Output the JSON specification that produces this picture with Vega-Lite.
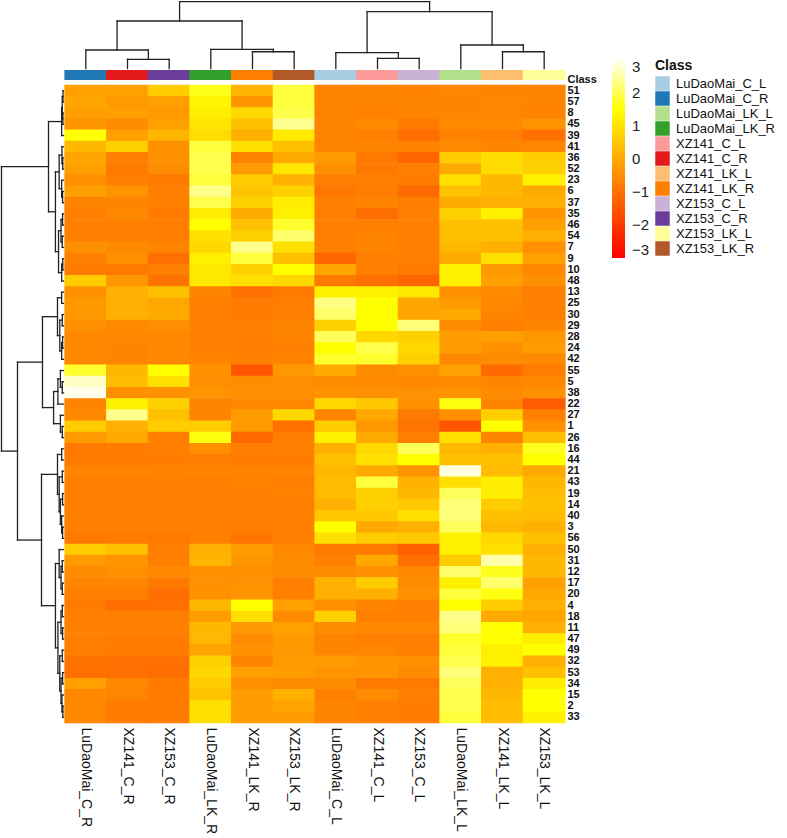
{
  "$schema": "https://vega.github.io/schema/vega-lite/v6.json",
  "width": 500,
  "height": 649,
  "autosize": {"type": "none"},
  "padding": {"left": 65, "top": 74, "right": 222, "bottom": 115},
  "background": "white",
  "config": {"view": {"stroke": null}, "font": "Liberation Sans"},
  "datasets": {
    "expr": [
      {"g":"51","LuDaoMai_C_R":-0.18,"XZ141_C_R":-0.18,"XZ153_C_R":0.6,"LuDaoMai_LK_R":1.65,"XZ141_LK_R":0.18,"XZ153_LK_R":1.88,"LuDaoMai_C_L":-0.65,"XZ141_C_L":-0.66,"XZ153_C_L":-0.68,"LuDaoMai_LK_L":-0.64,"XZ141_LK_L":-0.66,"XZ153_LK_L":-0.67},
      {"g":"57","LuDaoMai_C_R":-0.05,"XZ141_C_R":-0.28,"XZ153_C_R":-0.18,"LuDaoMai_LK_R":1.32,"XZ141_LK_R":-0.35,"XZ153_LK_R":1.88,"LuDaoMai_C_L":-0.66,"XZ141_C_L":-0.65,"XZ153_C_L":-0.67,"LuDaoMai_LK_L":-0.66,"XZ141_LK_L":-0.64,"XZ153_LK_L":-0.66},
      {"g":"8","LuDaoMai_C_R":-0.18,"XZ141_C_R":-0.2,"XZ153_C_R":-0.28,"LuDaoMai_LK_R":1.2,"XZ141_LK_R":0.81,"XZ153_LK_R":1.97,"LuDaoMai_C_L":-0.67,"XZ141_C_L":-0.68,"XZ153_C_L":-0.66,"LuDaoMai_LK_L":-0.67,"XZ141_LK_L":-0.66,"XZ153_LK_L":-0.68},
      {"g":"45","LuDaoMai_C_R":-0.35,"XZ141_C_R":-0.53,"XZ153_C_R":-0.18,"LuDaoMai_LK_R":1.06,"XZ141_LK_R":0.39,"XZ153_LK_R":2.4,"LuDaoMai_C_L":-0.66,"XZ141_C_L":-0.56,"XZ153_C_L":-0.85,"LuDaoMai_LK_L":-0.56,"XZ141_LK_L":-0.56,"XZ153_LK_L":-0.42},
      {"g":"39","LuDaoMai_C_R":1.55,"XZ141_C_R":-0.18,"XZ153_C_R":0.18,"LuDaoMai_LK_R":0.9,"XZ141_LK_R":0.11,"XZ153_LK_R":1.13,"LuDaoMai_C_L":-0.67,"XZ141_C_L":-0.74,"XZ153_C_L":-1.06,"LuDaoMai_LK_L":-0.7,"XZ141_LK_L":-0.74,"XZ153_LK_L":-1.02},
      {"g":"41","LuDaoMai_C_R":0.25,"XZ141_C_R":0.67,"XZ153_C_R":-0.46,"LuDaoMai_LK_R":1.88,"XZ141_LK_R":0.95,"XZ153_LK_R":0.39,"LuDaoMai_C_L":-0.66,"XZ141_C_L":-0.66,"XZ153_C_L":-0.7,"LuDaoMai_LK_L":-0.58,"XZ141_LK_L":-0.66,"XZ153_LK_L":-0.64},
      {"g":"36","LuDaoMai_C_R":-0.09,"XZ141_C_R":-0.74,"XZ153_C_R":-0.46,"LuDaoMai_LK_R":1.97,"XZ141_LK_R":-0.67,"XZ153_LK_R":0.0,"LuDaoMai_C_L":-0.28,"XZ141_C_L":-0.88,"XZ153_C_L":-1.2,"LuDaoMai_LK_L":0.6,"XZ141_LK_L":0.9,"XZ153_LK_L":0.6},
      {"g":"52","LuDaoMai_C_R":-0.18,"XZ141_C_R":-0.85,"XZ153_C_R":-0.53,"LuDaoMai_LK_R":1.97,"XZ141_LK_R":-0.28,"XZ153_LK_R":1.06,"LuDaoMai_C_L":-0.46,"XZ141_C_L":-0.88,"XZ153_C_L":-0.74,"LuDaoMai_LK_L":0.0,"XZ141_LK_L":0.9,"XZ153_LK_L":0.67},
      {"g":"23","LuDaoMai_C_R":-0.46,"XZ141_C_R":-0.74,"XZ153_C_R":-0.85,"LuDaoMai_LK_R":1.88,"XZ141_LK_R":0.6,"XZ153_LK_R":0.11,"LuDaoMai_C_L":-0.74,"XZ141_C_L":-0.74,"XZ153_C_L":-0.81,"LuDaoMai_LK_L":0.95,"XZ141_LK_L":0.25,"XZ153_LK_L":1.24},
      {"g":"6","LuDaoMai_C_R":-0.18,"XZ141_C_R":-0.4,"XZ153_C_R":-0.74,"LuDaoMai_LK_R":2.35,"XZ141_LK_R":0.46,"XZ153_LK_R":0.67,"LuDaoMai_C_L":-0.9,"XZ141_C_L":-0.8,"XZ153_C_L":-1.13,"LuDaoMai_LK_L":0.42,"XZ141_LK_L":0.25,"XZ153_LK_L":0.0},
      {"g":"37","LuDaoMai_C_R":-0.67,"XZ141_C_R":-0.67,"XZ153_C_R":-0.74,"LuDaoMai_LK_R":1.97,"XZ141_LK_R":0.67,"XZ153_LK_R":1.2,"LuDaoMai_C_L":-0.74,"XZ141_C_L":-0.67,"XZ153_C_L":-0.78,"LuDaoMai_LK_L":0.0,"XZ141_LK_L":0.11,"XZ153_LK_L":0.11},
      {"g":"35","LuDaoMai_C_R":-0.74,"XZ141_C_R":-0.6,"XZ153_C_R":-0.81,"LuDaoMai_LK_R":1.2,"XZ141_LK_R":0.0,"XZ153_LK_R":1.24,"LuDaoMai_C_L":-0.74,"XZ141_C_L":-1.06,"XZ153_C_L":-0.74,"LuDaoMai_LK_L":0.67,"XZ141_LK_L":1.24,"XZ153_LK_L":-0.35},
      {"g":"46","LuDaoMai_C_R":-0.74,"XZ141_C_R":-0.74,"XZ153_C_R":-0.78,"LuDaoMai_LK_R":1.5,"XZ141_LK_R":0.39,"XZ153_LK_R":1.78,"LuDaoMai_C_L":-0.74,"XZ141_C_L":-0.74,"XZ153_C_L":-0.74,"LuDaoMai_LK_L":0.39,"XZ141_LK_L":0.39,"XZ153_LK_L":-0.18},
      {"g":"54","LuDaoMai_C_R":-0.74,"XZ141_C_R":-0.74,"XZ153_C_R":-0.78,"LuDaoMai_LK_R":0.95,"XZ141_LK_R":0.67,"XZ153_LK_R":2.16,"LuDaoMai_C_L":-0.74,"XZ141_C_L":-0.67,"XZ153_C_L":-0.74,"LuDaoMai_LK_L":0.39,"XZ141_LK_L":0.39,"XZ153_LK_L":0.11},
      {"g":"7","LuDaoMai_C_R":-0.46,"XZ141_C_R":-0.56,"XZ153_C_R":-0.67,"LuDaoMai_LK_R":0.81,"XZ141_LK_R":2.35,"XZ153_LK_R":0.95,"LuDaoMai_C_L":-0.74,"XZ141_C_L":-0.67,"XZ153_C_L":-0.74,"LuDaoMai_LK_L":0.25,"XZ141_LK_L":0.11,"XZ153_LK_L":-0.46},
      {"g":"9","LuDaoMai_C_R":-0.74,"XZ141_C_R":-0.46,"XZ153_C_R":-1.02,"LuDaoMai_LK_R":1.24,"XZ141_LK_R":1.88,"XZ153_LK_R":0.39,"LuDaoMai_C_L":-1.2,"XZ141_C_L":-0.74,"XZ153_C_L":-0.74,"LuDaoMai_LK_L":0.0,"XZ141_LK_L":0.95,"XZ153_LK_L":-0.18},
      {"g":"10","LuDaoMai_C_R":-0.85,"XZ141_C_R":-0.88,"XZ153_C_R":-0.74,"LuDaoMai_LK_R":1.09,"XZ141_LK_R":0.67,"XZ153_LK_R":1.5,"LuDaoMai_C_L":-0.09,"XZ141_C_L":-0.74,"XZ153_C_L":-0.88,"LuDaoMai_LK_L":1.24,"XZ141_LK_L":-0.32,"XZ153_LK_L":-0.6},
      {"g":"48","LuDaoMai_C_R":0.6,"XZ141_C_R":-0.32,"XZ153_C_R":-0.95,"LuDaoMai_LK_R":1.09,"XZ141_LK_R":0.95,"XZ153_LK_R":0.81,"LuDaoMai_C_L":-0.85,"XZ141_C_L":-1.02,"XZ153_C_L":-1.24,"LuDaoMai_LK_L":1.24,"XZ141_LK_L":-0.18,"XZ153_LK_L":-0.46},
      {"g":"13","LuDaoMai_C_R":-0.46,"XZ141_C_R":0.11,"XZ153_C_R":0.39,"LuDaoMai_LK_R":-0.67,"XZ141_LK_R":-1.02,"XZ153_LK_R":-0.88,"LuDaoMai_C_L":1.24,"XZ141_C_L":1.24,"XZ153_C_L":1.09,"LuDaoMai_LK_L":-0.46,"XZ141_LK_L":-0.56,"XZ153_LK_L":-0.74},
      {"g":"25","LuDaoMai_C_R":-0.3,"XZ141_C_R":0.11,"XZ153_C_R":-0.05,"LuDaoMai_LK_R":-0.74,"XZ141_LK_R":-0.85,"XZ153_LK_R":-0.78,"LuDaoMai_C_L":2.3,"XZ141_C_L":1.5,"XZ153_C_L":-0.05,"LuDaoMai_LK_L":-0.3,"XZ141_LK_L":-0.6,"XZ153_LK_L":-0.74},
      {"g":"30","LuDaoMai_C_R":-0.32,"XZ141_C_R":0.11,"XZ153_C_R":0.0,"LuDaoMai_LK_R":-0.74,"XZ141_LK_R":-0.88,"XZ153_LK_R":-0.74,"LuDaoMai_C_L":2.16,"XZ141_C_L":1.5,"XZ153_C_L":-0.09,"LuDaoMai_LK_L":-0.04,"XZ141_LK_L":-0.67,"XZ153_LK_L":-0.74},
      {"g":"29","LuDaoMai_C_R":-0.46,"XZ141_C_R":-0.56,"XZ153_C_R":-0.49,"LuDaoMai_LK_R":-0.74,"XZ141_LK_R":-0.74,"XZ153_LK_R":-0.67,"LuDaoMai_C_L":0.67,"XZ141_C_L":1.5,"XZ153_C_L":2.25,"LuDaoMai_LK_L":-0.53,"XZ141_LK_L":-0.74,"XZ153_LK_L":-0.67},
      {"g":"28","LuDaoMai_C_R":-0.6,"XZ141_C_R":-0.6,"XZ153_C_R":-0.6,"LuDaoMai_LK_R":-0.74,"XZ141_LK_R":-0.78,"XZ153_LK_R":-0.67,"LuDaoMai_C_L":2.06,"XZ141_C_L":0.81,"XZ153_C_L":0.67,"LuDaoMai_LK_L":-0.25,"XZ141_LK_L":-0.18,"XZ153_LK_L":-0.32},
      {"g":"24","LuDaoMai_C_R":-0.6,"XZ141_C_R":-0.67,"XZ153_C_R":-0.6,"LuDaoMai_LK_R":-0.74,"XZ141_LK_R":-0.78,"XZ153_LK_R":-0.74,"LuDaoMai_C_L":1.5,"XZ141_C_L":1.97,"XZ153_C_L":0.81,"LuDaoMai_LK_L":-0.25,"XZ141_LK_L":-0.46,"XZ153_LK_L":-0.25},
      {"g":"42","LuDaoMai_C_R":-0.6,"XZ141_C_R":-0.67,"XZ153_C_R":-0.6,"LuDaoMai_LK_R":-0.67,"XZ141_LK_R":-0.74,"XZ153_LK_R":-0.67,"LuDaoMai_C_L":1.78,"XZ141_C_L":1.78,"XZ153_C_L":0.67,"LuDaoMai_LK_L":-0.6,"XZ141_LK_L":-0.53,"XZ153_LK_L":-0.56},
      {"g":"55","LuDaoMai_C_R":1.78,"XZ141_C_R":0.25,"XZ153_C_R":1.5,"LuDaoMai_LK_R":-0.46,"XZ141_LK_R":-1.5,"XZ153_LK_R":-0.32,"LuDaoMai_C_L":0.0,"XZ141_C_L":-0.53,"XZ153_C_L":-0.46,"LuDaoMai_LK_L":-0.18,"XZ141_LK_L":-1.13,"XZ153_LK_L":-0.81},
      {"g":"5","LuDaoMai_C_R":2.72,"XZ141_C_R":0.32,"XZ153_C_R":0.95,"LuDaoMai_LK_R":-0.49,"XZ141_LK_R":-0.53,"XZ153_LK_R":-0.49,"LuDaoMai_C_L":-0.53,"XZ141_C_L":-0.56,"XZ153_C_L":-0.6,"LuDaoMai_LK_L":-0.56,"XZ141_LK_L":-0.67,"XZ153_LK_L":-0.6},
      {"g":"38","LuDaoMai_C_R":2.95,"XZ141_C_R":-0.46,"XZ153_C_R":-0.46,"LuDaoMai_LK_R":-0.39,"XZ141_LK_R":-0.49,"XZ153_LK_R":-0.49,"LuDaoMai_C_L":-0.39,"XZ141_C_L":-0.46,"XZ153_C_L":-0.46,"LuDaoMai_LK_L":-0.39,"XZ141_LK_L":-0.53,"XZ153_LK_L":-0.46},
      {"g":"22","LuDaoMai_C_R":-0.67,"XZ141_C_R":1.24,"XZ153_C_R":0.67,"LuDaoMai_LK_R":-0.67,"XZ141_LK_R":-0.6,"XZ153_LK_R":-0.6,"LuDaoMai_C_L":0.81,"XZ141_C_L":0.53,"XZ153_C_L":-0.46,"LuDaoMai_LK_L":1.6,"XZ141_LK_L":-0.67,"XZ153_LK_L":-1.38},
      {"g":"27","LuDaoMai_C_R":-0.6,"XZ141_C_R":2.35,"XZ153_C_R":0.39,"LuDaoMai_LK_R":-0.67,"XZ141_LK_R":-0.25,"XZ153_LK_R":0.81,"LuDaoMai_C_L":-0.67,"XZ141_C_L":-0.04,"XZ153_C_L":-0.85,"LuDaoMai_LK_L":-0.46,"XZ141_LK_L":0.67,"XZ153_LK_L":-0.74},
      {"g":"1","LuDaoMai_C_R":0.6,"XZ141_C_R":0.11,"XZ153_C_R":0.6,"LuDaoMai_LK_R":0.6,"XZ141_LK_R":-0.28,"XZ153_LK_R":-1.02,"LuDaoMai_C_L":0.6,"XZ141_C_L":-0.32,"XZ153_C_L":-0.95,"LuDaoMai_LK_L":-1.5,"XZ141_LK_L":1.5,"XZ153_LK_L":-0.46},
      {"g":"26","LuDaoMai_C_R":-0.28,"XZ141_C_R":-0.04,"XZ153_C_R":-0.74,"LuDaoMai_LK_R":1.6,"XZ141_LK_R":-1.13,"XZ153_LK_R":-0.78,"LuDaoMai_C_L":1.24,"XZ141_C_L":0.0,"XZ153_C_L":-0.74,"LuDaoMai_LK_L":0.95,"XZ141_LK_L":-0.67,"XZ153_LK_L":0.35},
      {"g":"16","LuDaoMai_C_R":-0.88,"XZ141_C_R":-0.81,"XZ153_C_R":-0.78,"LuDaoMai_LK_R":-0.49,"XZ141_LK_R":-0.78,"XZ153_LK_R":-0.74,"LuDaoMai_C_L":0.11,"XZ141_C_L":0.81,"XZ153_C_L":2.06,"LuDaoMai_LK_L":0.25,"XZ141_LK_L":0.11,"XZ153_LK_L":1.69},
      {"g":"44","LuDaoMai_C_R":-0.85,"XZ141_C_R":-0.85,"XZ153_C_R":-0.81,"LuDaoMai_LK_R":-0.78,"XZ141_LK_R":-0.81,"XZ153_LK_R":-0.81,"LuDaoMai_C_L":0.39,"XZ141_C_L":0.95,"XZ153_C_L":1.5,"LuDaoMai_LK_L":0.39,"XZ141_LK_L":0.39,"XZ153_LK_L":1.5},
      {"g":"21","LuDaoMai_C_R":-0.67,"XZ141_C_R":-0.66,"XZ153_C_R":-0.68,"LuDaoMai_LK_R":-0.67,"XZ141_LK_R":-0.66,"XZ153_LK_R":-0.67,"LuDaoMai_C_L":0.25,"XZ141_C_L":0.0,"XZ153_C_L":-0.39,"LuDaoMai_LK_L":2.86,"XZ141_LK_L":0.32,"XZ153_LK_L":0.0},
      {"g":"43","LuDaoMai_C_R":-0.74,"XZ141_C_R":-0.74,"XZ153_C_R":-0.75,"LuDaoMai_LK_R":-0.74,"XZ141_LK_R":-0.73,"XZ153_LK_R":-0.74,"LuDaoMai_C_L":0.32,"XZ141_C_L":1.88,"XZ153_C_L":0.11,"LuDaoMai_LK_L":0.95,"XZ141_LK_L":1.2,"XZ153_LK_L":0.25},
      {"g":"19","LuDaoMai_C_R":-0.74,"XZ141_C_R":-0.75,"XZ153_C_R":-0.74,"LuDaoMai_LK_R":-0.74,"XZ141_LK_R":-0.74,"XZ153_LK_R":-0.73,"LuDaoMai_C_L":0.32,"XZ141_C_L":0.67,"XZ153_C_L":0.25,"LuDaoMai_LK_L":2.06,"XZ141_LK_L":1.2,"XZ153_LK_L":0.32},
      {"g":"14","LuDaoMai_C_R":-0.74,"XZ141_C_R":-0.74,"XZ153_C_R":-0.74,"LuDaoMai_LK_R":-0.75,"XZ141_LK_R":-0.74,"XZ153_LK_R":-0.74,"LuDaoMai_C_L":0.11,"XZ141_C_L":0.67,"XZ153_C_L":0.53,"LuDaoMai_LK_L":2.25,"XZ141_LK_L":0.6,"XZ153_LK_L":0.39},
      {"g":"40","LuDaoMai_C_R":-0.74,"XZ141_C_R":-0.74,"XZ153_C_R":-0.74,"LuDaoMai_LK_R":-0.74,"XZ141_LK_R":-0.75,"XZ153_LK_R":-0.74,"LuDaoMai_C_L":0.53,"XZ141_C_L":0.53,"XZ153_C_L":0.95,"LuDaoMai_LK_L":2.25,"XZ141_LK_L":0.39,"XZ153_LK_L":0.32},
      {"g":"3","LuDaoMai_C_R":-0.74,"XZ141_C_R":-0.74,"XZ153_C_R":-0.74,"LuDaoMai_LK_R":-0.74,"XZ141_LK_R":-0.81,"XZ153_LK_R":-0.74,"LuDaoMai_C_L":1.5,"XZ141_C_L":-0.04,"XZ153_C_L":0.11,"LuDaoMai_LK_L":2.06,"XZ141_LK_L":0.25,"XZ153_LK_L":0.11},
      {"g":"56","LuDaoMai_C_R":-0.88,"XZ141_C_R":-0.85,"XZ153_C_R":-0.88,"LuDaoMai_LK_R":-0.74,"XZ141_LK_R":-0.95,"XZ153_LK_R":-0.74,"LuDaoMai_C_L":0.95,"XZ141_C_L":0.6,"XZ153_C_L":0.53,"LuDaoMai_LK_L":1.24,"XZ141_LK_L":0.81,"XZ153_LK_L":0.39},
      {"g":"50","LuDaoMai_C_R":0.6,"XZ141_C_R":0.39,"XZ153_C_R":-0.74,"LuDaoMai_LK_R":0.11,"XZ141_LK_R":-0.25,"XZ153_LK_R":-0.6,"LuDaoMai_C_L":-0.85,"XZ141_C_L":-0.88,"XZ153_C_L":-1.31,"LuDaoMai_LK_L":1.24,"XZ141_LK_L":0.95,"XZ153_LK_L":0.11},
      {"g":"31","LuDaoMai_C_R":-0.28,"XZ141_C_R":-0.39,"XZ153_C_R":-0.74,"LuDaoMai_LK_R":0.18,"XZ141_LK_R":-0.32,"XZ153_LK_R":-0.53,"LuDaoMai_C_L":-0.74,"XZ141_C_L":-0.04,"XZ153_C_L":-1.02,"LuDaoMai_LK_L":0.6,"XZ141_LK_L":2.54,"XZ153_LK_L":0.25},
      {"g":"12","LuDaoMai_C_R":-0.53,"XZ141_C_R":-0.46,"XZ153_C_R":-0.6,"LuDaoMai_LK_R":-0.46,"XZ141_LK_R":-0.46,"XZ153_LK_R":-0.53,"LuDaoMai_C_L":-0.53,"XZ141_C_L":-0.46,"XZ153_C_L":-0.6,"LuDaoMai_LK_L":2.16,"XZ141_LK_L":1.69,"XZ153_LK_L":0.25},
      {"g":"17","LuDaoMai_C_R":-0.67,"XZ141_C_R":-0.6,"XZ153_C_R":-0.88,"LuDaoMai_LK_R":-0.46,"XZ141_LK_R":-0.46,"XZ153_LK_R":-0.74,"LuDaoMai_C_L":0.11,"XZ141_C_L":0.6,"XZ153_C_L":-0.53,"LuDaoMai_LK_L":1.24,"XZ141_LK_L":2.16,"XZ153_LK_L":-0.18},
      {"g":"20","LuDaoMai_C_R":-0.74,"XZ141_C_R":-0.74,"XZ153_C_R":-1.06,"LuDaoMai_LK_R":-0.46,"XZ141_LK_R":-0.39,"XZ153_LK_R":-0.74,"LuDaoMai_C_L":0.11,"XZ141_C_L":0.11,"XZ153_C_L":-0.46,"LuDaoMai_LK_L":1.88,"XZ141_LK_L":1.6,"XZ153_LK_L":-0.04},
      {"g":"4","LuDaoMai_C_R":-0.81,"XZ141_C_R":-1.06,"XZ153_C_R":-1.02,"LuDaoMai_LK_R":0.25,"XZ141_LK_R":1.5,"XZ153_LK_R":-0.18,"LuDaoMai_C_L":-0.46,"XZ141_C_L":-0.67,"XZ153_C_L":-0.74,"LuDaoMai_LK_L":1.5,"XZ141_LK_L":0.6,"XZ153_LK_L":0.11},
      {"g":"18","LuDaoMai_C_R":-0.74,"XZ141_C_R":-0.78,"XZ153_C_R":-0.74,"LuDaoMai_LK_R":-0.25,"XZ141_LK_R":0.95,"XZ153_LK_R":-0.53,"LuDaoMai_C_L":0.67,"XZ141_C_L":-0.74,"XZ153_C_L":-0.74,"LuDaoMai_LK_L":2.35,"XZ141_LK_L":0.0,"XZ153_LK_L":-0.09},
      {"g":"11","LuDaoMai_C_R":-0.74,"XZ141_C_R":-0.74,"XZ153_C_R":-0.74,"LuDaoMai_LK_R":0.25,"XZ141_LK_R":-0.32,"XZ153_LK_R":-0.18,"LuDaoMai_C_L":-0.53,"XZ141_C_L":-0.6,"XZ153_C_L":-0.6,"LuDaoMai_LK_L":2.25,"XZ141_LK_L":1.5,"XZ153_LK_L":0.11},
      {"g":"47","LuDaoMai_C_R":-0.74,"XZ141_C_R":-0.81,"XZ153_C_R":-0.81,"LuDaoMai_LK_R":0.25,"XZ141_LK_R":-0.53,"XZ153_LK_R":-0.28,"LuDaoMai_C_L":-0.67,"XZ141_C_L":-0.74,"XZ153_C_L":-0.74,"LuDaoMai_LK_L":1.78,"XZ141_LK_L":1.5,"XZ153_LK_L":1.2},
      {"g":"49","LuDaoMai_C_R":-0.78,"XZ141_C_R":-0.81,"XZ153_C_R":-0.81,"LuDaoMai_LK_R":-0.11,"XZ141_LK_R":-0.46,"XZ153_LK_R":-0.32,"LuDaoMai_C_L":-0.67,"XZ141_C_L":-0.67,"XZ153_C_L":-0.78,"LuDaoMai_LK_L":1.88,"XZ141_LK_L":1.24,"XZ153_LK_L":1.5},
      {"g":"32","LuDaoMai_C_R":-0.95,"XZ141_C_R":-1.02,"XZ153_C_R":-1.02,"LuDaoMai_LK_R":0.67,"XZ141_LK_R":-0.67,"XZ153_LK_R":-0.28,"LuDaoMai_C_L":-0.25,"XZ141_C_L":-0.39,"XZ153_C_L":-0.46,"LuDaoMai_LK_L":1.97,"XZ141_LK_L":1.24,"XZ153_LK_L":0.11},
      {"g":"53","LuDaoMai_C_R":-1.02,"XZ141_C_R":-1.02,"XZ153_C_R":-1.06,"LuDaoMai_LK_R":0.81,"XZ141_LK_R":-0.18,"XZ153_LK_R":-0.25,"LuDaoMai_C_L":-0.39,"XZ141_C_L":-0.39,"XZ153_C_L":-0.53,"LuDaoMai_LK_L":2.25,"XZ141_LK_L":0.11,"XZ153_LK_L":0.39},
      {"g":"34","LuDaoMai_C_R":-0.18,"XZ141_C_R":-0.6,"XZ153_C_R":-0.81,"LuDaoMai_LK_R":0.6,"XZ141_LK_R":-0.46,"XZ153_LK_R":-0.53,"LuDaoMai_C_L":-0.53,"XZ141_C_L":-0.85,"XZ153_C_L":-0.88,"LuDaoMai_LK_L":2.06,"XZ141_LK_L":0.11,"XZ153_LK_L":1.2},
      {"g":"15","LuDaoMai_C_R":-0.6,"XZ141_C_R":-0.67,"XZ153_C_R":-0.81,"LuDaoMai_LK_R":0.46,"XZ141_LK_R":-0.25,"XZ153_LK_R":0.11,"LuDaoMai_C_L":-0.74,"XZ141_C_L":-0.53,"XZ153_C_L":-0.74,"LuDaoMai_LK_L":1.97,"XZ141_LK_L":0.25,"XZ153_LK_L":1.5},
      {"g":"2","LuDaoMai_C_R":-0.6,"XZ141_C_R":-0.81,"XZ153_C_R":-0.81,"LuDaoMai_LK_R":0.95,"XZ141_LK_R":-0.25,"XZ153_LK_R":-0.11,"LuDaoMai_C_L":-0.67,"XZ141_C_L":-0.74,"XZ153_C_L":-0.81,"LuDaoMai_LK_L":1.97,"XZ141_LK_L":0.32,"XZ153_LK_L":1.5},
      {"g":"33","LuDaoMai_C_R":-0.6,"XZ141_C_R":-0.81,"XZ153_C_R":-0.81,"LuDaoMai_LK_R":0.95,"XZ141_LK_R":-0.25,"XZ153_LK_R":-0.25,"LuDaoMai_C_L":-0.67,"XZ141_C_L":-0.74,"XZ153_C_L":-0.81,"LuDaoMai_LK_L":1.88,"XZ141_LK_L":0.32,"XZ153_LK_L":1.24}
    ],
    "anno": [
      {"sample":"LuDaoMai_C_R","g":"Class"},{"sample":"XZ141_C_R","g":"Class"},{"sample":"XZ153_C_R","g":"Class"},
      {"sample":"LuDaoMai_LK_R","g":"Class"},{"sample":"XZ141_LK_R","g":"Class"},{"sample":"XZ153_LK_R","g":"Class"},
      {"sample":"LuDaoMai_C_L","g":"Class"},{"sample":"XZ141_C_L","g":"Class"},{"sample":"XZ153_C_L","g":"Class"},
      {"sample":"LuDaoMai_LK_L","g":"Class"},{"sample":"XZ141_LK_L","g":"Class"},{"sample":"XZ153_LK_L","g":"Class"}
    ],
    "colTree": [
      {"xl":1.5,"xr":2.5,"hl":0,"hr":0,"h":0.138},
      {"xl":0.5,"xr":2.0,"hl":0,"hr":0.138,"h":0.277},
      {"xl":4.5,"xr":5.5,"hl":0,"hr":0,"h":0.251},
      {"xl":3.5,"xr":5.0,"hl":0,"hr":0.251,"h":0.287},
      {"xl":1.25,"xr":4.25,"hl":0.277,"hr":0.287,"h":0.711},
      {"xl":7.5,"xr":8.5,"hl":0,"hr":0,"h":0.153},
      {"xl":6.5,"xr":8.0,"hl":0,"hr":0.153,"h":0.237},
      {"xl":10.5,"xr":11.5,"hl":0,"hr":0,"h":0.251},
      {"xl":9.5,"xr":11.0,"hl":0,"hr":0.251,"h":0.352},
      {"xl":7.25,"xr":10.25,"hl":0.237,"hr":0.352,"h":0.85},
      {"xl":2.75,"xr":8.75,"hl":0.711,"hr":0.85,"h":1.0}
    ],
    "rowTree": [
      {"pl":0.5,"pr":1.5,"hl":0,"hr":0,"h":0.008},
      {"pl":2.5,"pr":3.5,"hl":0,"hr":0,"h":0.01},
      {"pl":1.0,"pr":3.0,"hl":0.008,"hr":0.01,"h":0.02},
      {"pl":2.0,"pr":4.5,"hl":0.02,"hr":0,"h":0.03},
      {"pl":6.5,"pr":7.5,"hl":0,"hr":0,"h":0.012},
      {"pl":5.5,"pr":7.0,"hl":0,"hr":0.012,"h":0.025},
      {"pl":9.5,"pr":10.5,"hl":0,"hr":0,"h":0.015},
      {"pl":8.5,"pr":10.0,"hl":0,"hr":0.015,"h":0.03},
      {"pl":6.25,"pr":9.25,"hl":0.025,"hr":0.03,"h":0.07},
      {"pl":11.5,"pr":12.5,"hl":0,"hr":0,"h":0.015},
      {"pl":13.5,"pr":14.5,"hl":0,"hr":0,"h":0.02},
      {"pl":12.0,"pr":14.0,"hl":0.015,"hr":0.02,"h":0.04},
      {"pl":15.5,"pr":16.5,"hl":0,"hr":0,"h":0.012},
      {"pl":16.0,"pr":17.5,"hl":0.012,"hr":0,"h":0.03},
      {"pl":13.0,"pr":16.75,"hl":0.04,"hr":0.03,"h":0.08},
      {"pl":7.75,"pr":14.875,"hl":0.07,"hr":0.08,"h":0.13},
      {"pl":3.25,"pr":11.3125,"hl":0.03,"hr":0.13,"h":0.242},
      {"pl":18.5,"pr":19.5,"hl":0,"hr":0,"h":0.03},
      {"pl":20.5,"pr":21.5,"hl":0,"hr":0,"h":0.02},
      {"pl":22.5,"pr":23.5,"hl":0,"hr":0,"h":0.015},
      {"pl":23.0,"pr":24.5,"hl":0.015,"hr":0,"h":0.03},
      {"pl":21.0,"pr":23.75,"hl":0.02,"hr":0.03,"h":0.06},
      {"pl":19.0,"pr":22.375,"hl":0.03,"hr":0.06,"h":0.097},
      {"pl":26.5,"pr":27.5,"hl":0,"hr":0,"h":0.02},
      {"pl":25.5,"pr":27.0,"hl":0,"hr":0.02,"h":0.05},
      {"pl":26.25,"pr":28.5,"hl":0.05,"hr":0,"h":0.09},
      {"pl":30.5,"pr":31.5,"hl":0,"hr":0,"h":0.02},
      {"pl":29.5,"pr":31.0,"hl":0,"hr":0.02,"h":0.05},
      {"pl":27.375,"pr":30.25,"hl":0.09,"hr":0.05,"h":0.16},
      {"pl":20.6875,"pr":28.8125,"hl":0.097,"hr":0.16,"h":0.339},
      {"pl":32.5,"pr":33.5,"hl":0,"hr":0,"h":0.03},
      {"pl":34.5,"pr":35.5,"hl":0,"hr":0,"h":0.02},
      {"pl":36.5,"pr":37.5,"hl":0,"hr":0,"h":0.015},
      {"pl":39.5,"pr":40.5,"hl":0,"hr":0,"h":0.015},
      {"pl":38.5,"pr":40.0,"hl":0,"hr":0.015,"h":0.03},
      {"pl":37.0,"pr":39.25,"hl":0.015,"hr":0.03,"h":0.05},
      {"pl":35.0,"pr":38.125,"hl":0.02,"hr":0.05,"h":0.07},
      {"pl":33.0,"pr":36.5625,"hl":0.03,"hr":0.07,"h":0.097},
      {"pl":42.5,"pr":43.5,"hl":0,"hr":0,"h":0.02},
      {"pl":44.5,"pr":45.5,"hl":0,"hr":0,"h":0.02},
      {"pl":43.0,"pr":45.0,"hl":0.02,"hr":0.02,"h":0.04},
      {"pl":41.5,"pr":44.0,"hl":0,"hr":0.04,"h":0.07},
      {"pl":46.5,"pr":47.5,"hl":0,"hr":0,"h":0.02},
      {"pl":48.5,"pr":49.5,"hl":0,"hr":0,"h":0.015},
      {"pl":47.0,"pr":49.0,"hl":0.02,"hr":0.015,"h":0.04},
      {"pl":50.5,"pr":51.5,"hl":0,"hr":0,"h":0.02},
      {"pl":52.5,"pr":53.5,"hl":0,"hr":0,"h":0.015},
      {"pl":55.5,"pr":56.5,"hl":0,"hr":0,"h":0.01},
      {"pl":54.5,"pr":56.0,"hl":0,"hr":0.01,"h":0.025},
      {"pl":53.0,"pr":55.25,"hl":0.015,"hr":0.025,"h":0.04},
      {"pl":51.0,"pr":54.125,"hl":0.02,"hr":0.04,"h":0.06},
      {"pl":48.0,"pr":52.5625,"hl":0.04,"hr":0.06,"h":0.09},
      {"pl":42.75,"pr":50.28125,"hl":0.07,"hr":0.09,"h":0.13},
      {"pl":34.78125,"pr":46.515625,"hl":0.097,"hr":0.13,"h":0.355},
      {"pl":24.75,"pr":40.6484,"hl":0.339,"hr":0.355,"h":0.742},
      {"pl":7.28125,"pr":32.6992,"hl":0.242,"hr":0.742,"h":1.0}
    ]
  },
  "layer": [
    {
      "layer": [
        {
          "data": {"name": "expr"},
          "transform": [
            {"fold": ["LuDaoMai_C_R","XZ141_C_R","XZ153_C_R","LuDaoMai_LK_R","XZ141_LK_R","XZ153_LK_R","LuDaoMai_C_L","XZ141_C_L","XZ153_C_L","LuDaoMai_LK_L","XZ141_LK_L","XZ153_LK_L"], "as": ["sample", "value"]}
          ],
          "mark": {"type": "rect", "width": {"band": 1.03}, "height": {"band": 1.06}},
          "encoding": {
            "x": {
              "field": "sample", "type": "nominal",
              "scale": {"domain": ["LuDaoMai_C_R","XZ141_C_R","XZ153_C_R","LuDaoMai_LK_R","XZ141_LK_R","XZ153_LK_R","LuDaoMai_C_L","XZ141_C_L","XZ153_C_L","LuDaoMai_LK_L","XZ141_LK_L","XZ153_LK_L"], "paddingInner": 0, "paddingOuter": 0},
              "axis": {"orient": "bottom", "title": null, "ticks": false, "domain": false, "labelAngle": 90, "labelAlign": "left", "labelBaseline": "middle", "labelPadding": 4, "labelFontSize": 14, "labelFont": "Liberation Sans", "labelColor": "#111111", "labelOverlap": false, "labelLimit": 0}
            },
            "y": {
              "field": "g", "type": "ordinal",
              "scale": {"domain": ["Class","51","57","8","45","39","41","36","52","23","6","37","35","46","54","7","9","10","48","13","25","30","29","28","24","42","55","5","38","22","27","1","26","16","44","21","43","19","14","40","3","56","50","31","12","17","20","4","18","11","47","49","32","53","34","15","2","33"], "paddingInner": 0, "paddingOuter": 0},
              "axis": {"orient": "right", "title": null, "ticks": false, "domain": false, "labelPadding": 2, "labelFont": "Liberation Sans", "labelFontWeight": "bold", "labelFontSize": 11, "labelColor": "#111111", "labelOverlap": false, "labelBound": false}
            },
            "color": {
              "field": "value", "type": "quantitative",
              "scale": {"type": "linear", "domain": [-3, 1.5, 3], "range": ["#ff0000", "#ffff00", "#fffff4"], "interpolate": "rgb"},
              "legend": {"orient": "none", "legendX": 547, "legendY": -14, "direction": "vertical", "title": null, "gradientLength": 198, "gradientThickness": 13, "values": [-3, -2, -1, 0, 1, 2, 3], "labelFontSize": 15, "labelFont": "Liberation Sans", "labelColor": "#222222", "labelOffset": 7, "gradientStrokeWidth": 0}
            }
          }
        },
        {
          "data": {"name": "anno"},
          "mark": {"type": "rect", "height": 10, "yOffset": -4.6, "width": {"band": 1.03}},
          "encoding": {
            "x": {"field": "sample", "type": "nominal"},
            "y": {"field": "g", "type": "ordinal"},
            "color": {
              "field": "sample", "type": "nominal",
              "scale": {"domain": ["LuDaoMai_C_L","LuDaoMai_C_R","LuDaoMai_LK_L","LuDaoMai_LK_R","XZ141_C_L","XZ141_C_R","XZ141_LK_L","XZ141_LK_R","XZ153_C_L","XZ153_C_R","XZ153_LK_L","XZ153_LK_R"], "range": ["#a6cee3","#1f78b4","#b2df8a","#33a02c","#fb9a99","#e31a1c","#fdbf6f","#ff7f00","#cab2d6","#6a3d9a","#ffff99","#b15928"]},
              "legend": {"orient": "none", "legendX": 590, "legendY": -15, "title": "Class", "titleFontSize": 14, "titleFontWeight": "bold", "titleFont": "Liberation Sans", "titleColor": "#111111", "titlePadding": 3, "symbolType": "square", "symbolSize": 210, "symbolStrokeWidth": 0, "symbolOpacity": 1, "labelFontSize": 13, "labelFont": "Liberation Sans", "labelColor": "#111111", "labelOffset": 6, "rowPadding": 0, "padding": 0}
            }
          }
        }
      ],
      "resolve": {"scale": {"color": "independent"}}
    },
    {
      "data": {"name": "colTree"},
      "layer": [
        {
          "mark": {"type": "rule", "color": "#222222", "strokeWidth": 1.3, "strokeCap": "square"},
          "encoding": {
            "x": {"field": "xl", "type": "quantitative", "scale": {"domain": [0, 12], "nice": false, "zero": false}, "axis": null},
            "y": {"field": "hl", "type": "quantitative", "scale": {"domain": [-9.798, -0.0823], "nice": false, "zero": false}, "axis": null},
            "y2": {"field": "h"}
          }
        },
        {
          "mark": {"type": "rule", "color": "#222222", "strokeWidth": 1.3, "strokeCap": "square"},
          "encoding": {
            "x": {"field": "xr", "type": "quantitative", "scale": {"domain": [0, 12], "nice": false, "zero": false}, "axis": null},
            "y": {"field": "hr", "type": "quantitative", "scale": {"domain": [-9.798, -0.0823], "nice": false, "zero": false}, "axis": null},
            "y2": {"field": "h"}
          }
        },
        {
          "mark": {"type": "rule", "color": "#222222", "strokeWidth": 1.3, "strokeCap": "square"},
          "encoding": {
            "x": {"field": "xl", "type": "quantitative", "scale": {"domain": [0, 12], "nice": false, "zero": false}, "axis": null},
            "x2": {"field": "xr"},
            "y": {"field": "h", "type": "quantitative", "scale": {"domain": [-9.798, -0.0823], "nice": false, "zero": false}, "axis": null}
          }
        }
      ]
    },
    {
      "data": {"name": "rowTree"},
      "layer": [
        {
          "mark": {"type": "rule", "color": "#222222", "strokeWidth": 1.3, "strokeCap": "square"},
          "encoding": {
            "y": {"field": "pl", "type": "quantitative", "scale": {"domain": [-1, 57], "reverse": true, "nice": false, "zero": false}, "axis": null},
            "x": {"field": "hl", "type": "quantitative", "scale": {"domain": [-8.0887, -0.0242], "reverse": true, "nice": false, "zero": false}, "axis": null},
            "x2": {"field": "h"}
          }
        },
        {
          "mark": {"type": "rule", "color": "#222222", "strokeWidth": 1.3, "strokeCap": "square"},
          "encoding": {
            "y": {"field": "pr", "type": "quantitative", "scale": {"domain": [-1, 57], "reverse": true, "nice": false, "zero": false}, "axis": null},
            "x": {"field": "hr", "type": "quantitative", "scale": {"domain": [-8.0887, -0.0242], "reverse": true, "nice": false, "zero": false}, "axis": null},
            "x2": {"field": "h"}
          }
        },
        {
          "mark": {"type": "rule", "color": "#222222", "strokeWidth": 1.3, "strokeCap": "square"},
          "encoding": {
            "x": {"field": "h", "type": "quantitative", "scale": {"domain": [-8.0887, -0.0242], "reverse": true, "nice": false, "zero": false}, "axis": null},
            "y": {"field": "pl", "type": "quantitative", "scale": {"domain": [-1, 57], "reverse": true, "nice": false, "zero": false}, "axis": null},
            "y2": {"field": "pr"}
          }
        }
      ]
    }
  ],
  "resolve": {"scale": {"x": "independent", "y": "independent"}}
}
